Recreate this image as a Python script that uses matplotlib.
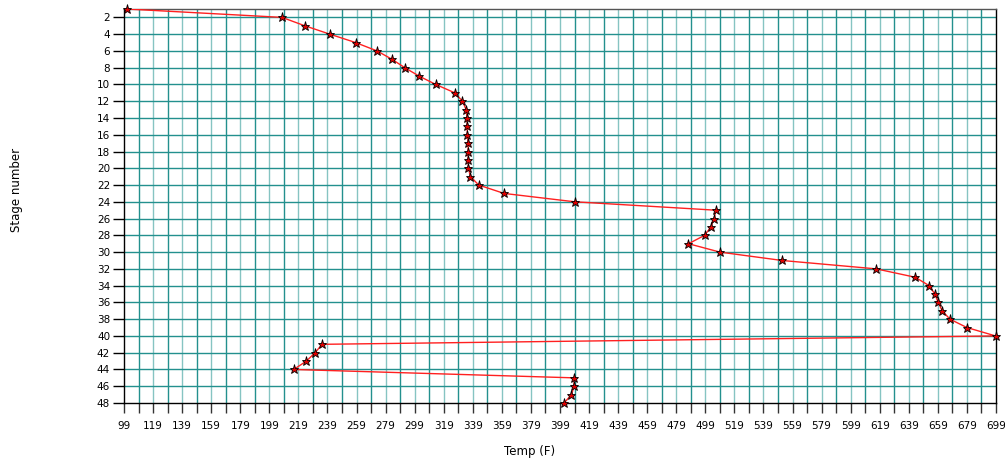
import matplotlib
matplotlib.use('Agg')
import matplotlib.pyplot as plt
import numpy as np

# stage profile
stages = np.arange(1, 49)
temps = [101.0, 207.7, 223.4, 240.6, 258.3, 273.1, 283.4, 292.2, 302.0, 313.5,
         326.6, 331.9, 334.4, 335.1, 335.1, 335.3, 335.8, 335.8, 335.8, 336.0,
         337.4, 343.1, 360.5, 409.2, 506.2, 505.1, 502.8, 498.5, 487.4, 509.0,
         551.9, 616.6, 643.4, 653.0, 656.9, 659.2, 662.0, 667.3, 679.0, 698.7,
         235.3, 230.5, 224.5, 215.8, 408.7, 408.7, 406.9, 401.8]

x_major = np.arange(99, 700, 20)
x_minor = np.arange(109, 700, 20)
y_ticks = np.arange(2, 49, 2)

fig = plt.figure(figsize=(10.05, 4.63), dpi=100)
ax = fig.add_axes([124/1005, 1-403/463, 872/1005, 394/463])

# grid, alternating teal shades every 10 F
for i, xv in enumerate(np.arange(109, 699, 10)):
    col = '#23908e' if i % 2 == 0 else '#86c4c2'
    ax.axvline(xv, color=col, lw=1.0, zorder=1)
for yv in y_ticks[:-1]:
    ax.axhline(yv, color='#23908e', lw=1.0, zorder=1)

ax.plot(temps, stages, '-', color='#ff2020', lw=1.0, zorder=3)
ax.plot(temps, stages, '*', ms=6.5, mfc='#e00000', mec='black', mew=0.6, zorder=4, clip_on=False)

ax.set_xlim(99, 699)
ax.set_ylim(48, 1)
ax.set_xticks(x_major)
ax.set_xticklabels([str(v) for v in x_major], fontsize=7.5)
ax.set_xticks(x_minor, minor=True)
ax.set_yticks(y_ticks)
ax.set_yticklabels([str(v) for v in y_ticks], fontsize=7.5)
ax.tick_params(axis='x', which='both', length=7, width=1, color='#333333', pad=6)
ax.tick_params(axis='y', length=8, width=1, color='black', pad=2)

for s in ax.spines.values():
    s.set_color('black')
    s.set_linewidth(1)
ax.spines['top'].set_color('#555555')

ax.set_xlabel('Temp (F)', fontsize=8.5)
ax.xaxis.set_label_coords((530-124)/872, -0.107)
ax.set_ylabel('Stage number', fontsize=8.5)
ax.yaxis.set_label_coords((23-124)/872, 0.54)

fig.savefig('out.png', dpi=100)
